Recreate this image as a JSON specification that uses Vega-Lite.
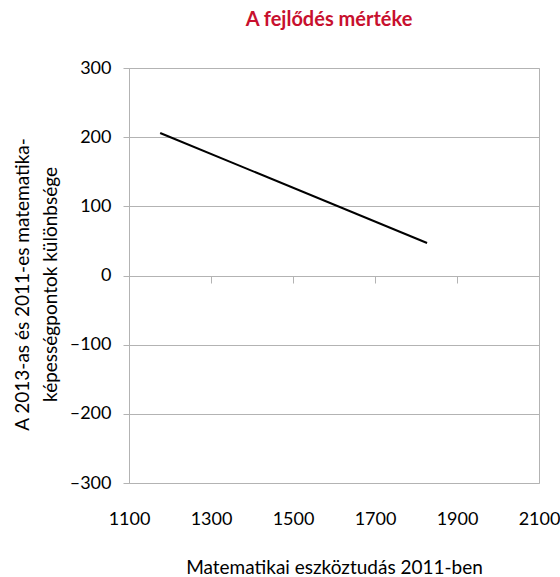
{
  "$schema": "https://vega.github.io/schema/vega-lite/v6.json",
  "autosize": {"type": "none"},
  "padding": {"left": 129, "top": 68, "right": 21, "bottom": 94},
  "width": 410,
  "height": 415,
  "config": {
    "font": "Lato",
    "view": {"stroke": "#b3b3b3", "strokeWidth": 1}
  },
  "title": {
    "text": "A fejlődés mértéke",
    "color": "#c8102e",
    "fontSize": 20,
    "fontWeight": "bold",
    "font": "Lato",
    "anchor": "middle",
    "dx": -5,
    "offset": 29
  },
  "data": {
    "values": [
      {"x2011": 1176, "diff": 206},
      {"x2011": 1827, "diff": 47}
    ]
  },
  "resolve": {"axis": {"x": "independent"}},
  "layer": [
    {
      "mark": {"type": "line", "color": "#000000", "strokeWidth": 2},
      "encoding": {
        "x": {
          "field": "x2011", "type": "quantitative",
          "scale": {"domain": [1100, 2100], "nice": false, "zero": false},
          "axis": {
            "title": "Matematikai eszköztudás 2011-ben",
            "values": [1100, 1300, 1500, 1700, 1900, 2100],
            "format": "d",
            "grid": false, "domain": false, "ticks": false,
            "labelFontSize": 18, "labelColor": "#000", "labelPadding": 27,
            "labelFlush": false,
            "titleFontSize": 19, "titleFontWeight": "normal", "titleColor": "#000",
            "titlePadding": 30
          }
        },
        "y": {
          "field": "diff", "type": "quantitative",
          "scale": {"domain": [-300, 300], "nice": false},
          "axis": {
            "title": ["A 2013-as és 2011-es matematika-", "képességpontok különbsége"],
            "values": [-300, -200, -100, 0, 100, 200, 300],
            "labelExpr": "replace(datum.label, '−', '–')",
            "grid": true, "gridColor": "#b3b3b3",
            "domainColor": "#b3b3b3", "tickColor": "#b3b3b3", "tickSize": 6,
            "labelFontSize": 18, "labelColor": "#000", "labelPadding": 12,
            "titleFontSize": 19, "titleFontWeight": "normal", "titleColor": "#000",
            "titleY": 216, "titleX": -107, "titleBaseline": "middle", "titleAlign": "center",
            "titleLineHeight": 28
          }
        }
      }
    },
    {
      "mark": {"type": "rule", "color": "#b3b3b3", "strokeWidth": 1, "opacity": 0},
      "encoding": {
        "x": {
          "field": "x2011", "type": "quantitative",
          "axis": {
            "title": null, "orient": "bottom", "offset": -207,
            "values": [1100, 1300, 1500, 1700, 1900, 2100],
            "labels": false, "grid": false,
            "domainColor": "#b3b3b3", "tickColor": "#b3b3b3", "tickSize": 7
          }
        }
      }
    }
  ]
}
